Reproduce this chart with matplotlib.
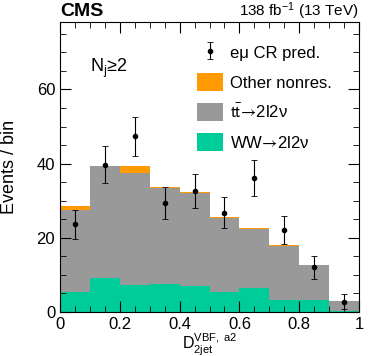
import numpy as np
import matplotlib.pyplot as plt
from matplotlib.patches import Patch
from matplotlib.ticker import MultipleLocator

plt.rcParams['font.family'] = ['Liberation Sans', 'DejaVu Sans']
plt.rcParams['mathtext.fontset'] = 'custom'
plt.rcParams['mathtext.rm'] = 'Liberation Sans'
plt.rcParams['mathtext.it'] = 'Liberation Sans'

# bin edges of the discriminant
edges = np.linspace(0, 1, 11)

# stacked backgrounds (events per bin)
ww = [5.3, 9.1, 7.2, 7.6, 6.9, 5.5, 6.6, 3.3, 3.3, 0.4]
ttbar = [22.3, 30.3, 30.3, 25.9, 25.3, 19.9, 15.9, 14.6, 9.3, 2.6]
other = [1.1, 0.1, 1.9, 0.1, 0.2, 0.1, 0.1, 0.1, 0.2, 0.05]

# e-mu control region prediction with uncertainties
pred = [23.6, 39.7, 47.4, 29.4, 32.6, 26.8, 36.2, 22.2, 12.0, 2.8]
pred_err = [4.0, 5.0, 5.3, 4.3, 4.6, 4.2, 4.8, 3.8, 3.0, 2.0]

c_ww = '#00cc99'
c_tt = '#999999'
c_other = '#ff9a00'

fig = plt.figure(figsize=(3.74, 3.56), dpi=100)
ax = fig.add_axes([60 / 374, 44 / 356, 299 / 374, 290 / 356])

centers = 0.5 * (edges[:-1] + edges[1:])
width = edges[1] - edges[0]
ww = np.array(ww)
ttbar = np.array(ttbar)
other = np.array(other)

ax.bar(centers, ww, width=width, color=c_ww, linewidth=0)
ax.bar(centers, ttbar, width=width, bottom=ww, color=c_tt, linewidth=0)
ax.bar(centers, other, width=width, bottom=ww + ttbar, color=c_other, linewidth=0)

eb = ax.errorbar(centers, pred, yerr=pred_err, fmt='o', color='black', markersize=3,
                 elinewidth=0.8, capsize=2, capthick=0.6)

ax.set_xlim(0, 1)
ax.set_ylim(0, 78.2)
ax.xaxis.set_minor_locator(MultipleLocator(0.05))
ax.yaxis.set_major_locator(MultipleLocator(20))
ax.yaxis.set_minor_locator(MultipleLocator(5))
ax.tick_params(which='both', direction='in', top=True, right=True, labelsize=12)
ax.tick_params(which='major', length=8)
ax.tick_params(which='minor', length=4)
ax.set_xticks([0, 0.2, 0.4, 0.6, 0.8, 1])
ax.set_xticklabels(['0', '0.2', '0.4', '0.6', '0.8', '1'])
for s in ax.spines.values():
    s.set_linewidth(0.8)

ax.set_ylabel('Events / bin', fontsize=13)
ax.yaxis.set_label_coords(-0.14, 0.5)
ax.text(0.5, -37 / 290, r'$\mathrm{D}_{\mathrm{2jet}}^{\mathrm{VBF,\ a2}}$', transform=ax.transAxes,
        fontsize=11.5, ha='center', va='baseline')

ax.text(0.0, 1.0 + 6 / 290, 'CMS', transform=ax.transAxes, fontsize=14, fontweight='bold',
        va='baseline', ha='left')
ax.text(1.0, 1.0 + 6 / 290, u'138 fb$^{-1}$ (13 TeV)', transform=ax.transAxes, fontsize=11,
        va='baseline', ha='right')
ax.text(0.1, 0.84, u'N$_\\mathrm{j}$\u22652', transform=ax.transAxes, fontsize=13, va='center', ha='left')

handles = [eb, Patch(facecolor=c_other), Patch(facecolor=c_tt), Patch(facecolor=c_ww)]
labels = [u'e\u03bc CR pred.', 'Other nonres.',
          u'$\\mathrm{t\\bar{t}}\\!\\rightarrow\\!$2l2\u03bd',
          u'WW$\\!\\rightarrow\\!$2l2\u03bd']
leg = ax.legend(handles, labels, loc='upper left', bbox_to_anchor=(0.435, 0.95), frameon=False,
                fontsize=12, handlelength=1.6, handleheight=1.3, labelspacing=0.7, handletextpad=0.4,
                borderaxespad=0)
for t in leg.get_texts()[2:]:
    t.set_math_fontfamily('stixsans')

fig.savefig('out.png', dpi=100)
